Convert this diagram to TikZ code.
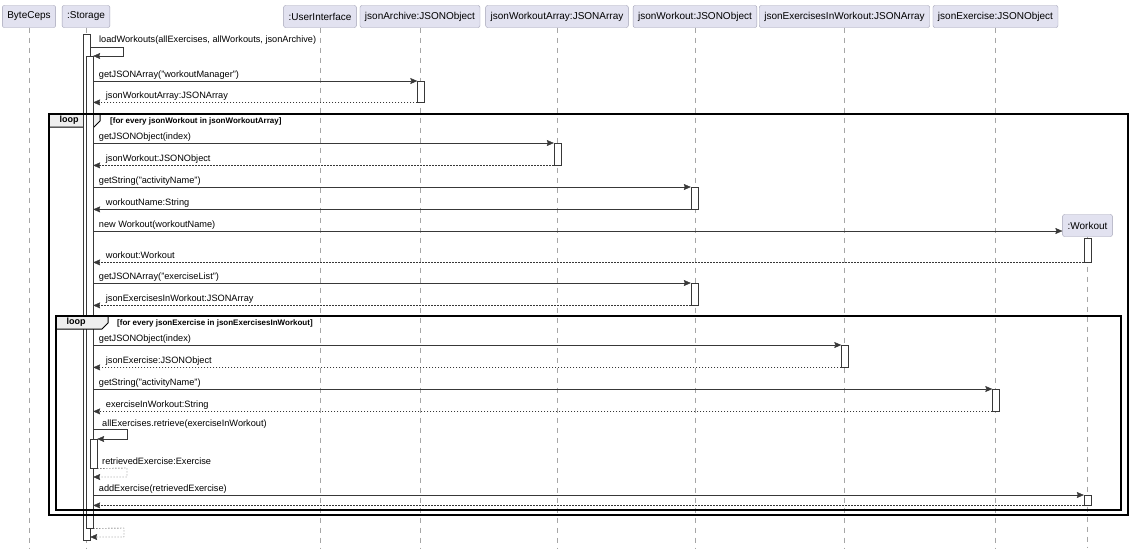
\documentclass[tikz,border=0pt]{standalone}
\usepackage{fontspec}
\setmainfont{Liberation Sans}
\usetikzlibrary{arrows.meta}
\definecolor{partfill}{HTML}{E2E2F0}
\definecolor{partline}{HTML}{A0A0B4}
\definecolor{msgline}{HTML}{383838}
\definecolor{tabfill}{HTML}{EEEEEE}
\tikzset{
  part/.style={draw=partline, fill=partfill, rounded corners=2pt, minimum height=22pt,
    inner xsep=5pt, font=\fontsize{10}{12}\selectfont},
  life/.style={draw=gray!70, dash pattern=on 5pt off 5pt},
  bar/.style={draw=msgline, fill=white, minimum width=7pt, inner sep=0pt, anchor=north},
  call/.style={draw=msgline, -{Stealth[length=7pt,width=6pt,inset=1pt]}},
  ret/.style={call, dash pattern=on 1.5pt off 1.5pt},
  msg/.style={anchor=base west, inner sep=0pt, font=\fontsize{9.2}{11}\selectfont},
  looptab/.style={draw=black, fill=tabfill, line width=1pt},
  loopbox/.style={draw=black, line width=1.2pt},
  cond/.style={anchor=base west, inner sep=0pt, font=\bfseries\fontsize{8}{10}\selectfont},
}
\begin{document}
\begin{tikzpicture}[x=1pt,y=-1pt]
  \useasboundingbox (0,0) rectangle (1130,550);
  \coordinate (bottom) at (0,548);
  % participants
  \node[part] (bc) at (29,16.5) {ByteCeps};
  \node[part] (st) at (86,16.5) {:Storage};
  \node[part] (ui) at (320,16.5) {:UserInterface};
  \node[part] (ja) at (420,16.5) {jsonArchive:JSONObject};
  \node[part] (jwa) at (557,16.5) {jsonWorkoutArray:JSONArray};
  \node[part] (jw) at (695,16.5) {jsonWorkout:JSONObject};
  \node[part] (jeiw) at (844.5,16.5) {jsonExercisesInWorkout:JSONArray};
  \node[part] (je) at (995.5,16.5) {jsonExercise:JSONObject};
  \node[part] (wo) at (1087.5,225.5) {:Workout};
  \foreach \p in {bc,st,ui,ja,jwa,jw,jeiw,je,wo}
    \draw[life] (\p.south) -- (\p.south |- bottom);

  % outer loop tab
  \draw[looptab] (49,114) -- (100,114) -- (100,121) -- (94,127) -- (49,127) -- cycle;
  \node[font=\bfseries\fontsize{9}{11}\selectfont, inner sep=0pt] (l1) at (69,120.5) {loop};
  \node[cond] (c1) at (110,123) {[for every jsonWorkout in jsonWorkoutArray]};

  % activations
  \node[bar, minimum height=506pt] (a1) at (86.5,34) {};
  \node[bar, minimum height=472pt] (a2) at (89.5,56) {};
  \node[bar, minimum height=21pt] (ja1) at (421,81) {};
  \node[bar, minimum height=22pt] (jwa1) at (557.5,143) {};
  \node[bar, minimum height=22pt] (jw1) at (694.5,187) {};
  \node[bar, minimum height=24pt] (wo1) at (1087.5,238) {};
  \node[bar, minimum height=22pt] (jw2) at (694.5,283) {};
  \node[bar, minimum height=22pt] (jeiw1) at (845,345) {};
  \node[bar, minimum height=22pt] (je1) at (996,389) {};
  \node[bar, minimum height=29pt] (a3) at (93.5,439) {};
  \node[bar, minimum height=10pt] (wo2) at (1087.5,495) {};

  % inner loop tab
  \draw[looptab] (56,316) -- (108,316) -- (108,323) -- (102,329) -- (56,329) -- cycle;
  \node[font=\bfseries\fontsize{9}{11}\selectfont, inner sep=0pt] (l2) at (76,322.5) {loop};
  \node[cond] (c2) at (117,325) {[for every jsonExercise in jsonExercisesInWorkout]};

  % messages
  \draw[call] (a1.east |- 0,47) -- (123,47) |- (a2.north east);
  \node[msg] (m1) at (99,42.5) {loadWorkouts(allExercises, allWorkouts, jsonArchive)};
  \draw[call] (a2.east |- ja1.north) -- (ja1.north west)
    node[msg, at start, xshift=5.5pt, yshift=4pt] (m2) {getJSONArray("workoutManager")};
  \draw[ret] (ja1.south west) -- (a2.east |- ja1.south)
    node[msg, at end, xshift=12.5pt, yshift=4pt] (m3) {jsonWorkoutArray:JSONArray};
  \draw[call] (a2.east |- jwa1.north) -- (jwa1.north west)
    node[msg, at start, xshift=5.5pt, yshift=4pt] (m4) {getJSONObject(index)};
  \draw[ret] (jwa1.south west) -- (a2.east |- jwa1.south)
    node[msg, at end, xshift=12.5pt, yshift=4pt] (m5) {jsonWorkout:JSONObject};
  \draw[call] (a2.east |- jw1.north) -- (jw1.north west)
    node[msg, at start, xshift=5.5pt, yshift=4pt] (m6) {getString("activityName")};
  \draw[call] (jw1.south west) -- (a2.east |- jw1.south)
    node[msg, at end, xshift=12.5pt, yshift=4pt] (m7) {workoutName:String};
  \draw[call] (a2.east |- 0,231) -- (wo.west |- 0,231)
    node[msg, at start, xshift=5.5pt, yshift=4pt] (m8) {new Workout(workoutName)};
  \draw[ret] (wo1.south west) -- (a2.east |- wo1.south)
    node[msg, at end, xshift=12.5pt, yshift=4pt] (m9) {workout:Workout};
  \draw[call] (a2.east |- jw2.north) -- (jw2.north west)
    node[msg, at start, xshift=5.5pt, yshift=4pt] (m10) {getJSONArray("exerciseList")};
  \draw[ret] (jw2.south west) -- (a2.east |- jw2.south)
    node[msg, at end, xshift=12.5pt, yshift=4pt] (m11) {jsonExercisesInWorkout:JSONArray};
  \draw[call] (a2.east |- jeiw1.north) -- (jeiw1.north west)
    node[msg, at start, xshift=5.5pt, yshift=4pt] (m12) {getJSONObject(index)};
  \draw[ret] (jeiw1.south west) -- (a2.east |- jeiw1.south)
    node[msg, at end, xshift=12.5pt, yshift=4pt] (m13) {jsonExercise:JSONObject};
  \draw[call] (a2.east |- je1.north) -- (je1.north west)
    node[msg, at start, xshift=5.5pt, yshift=4pt] (m14) {getString("activityName")};
  \draw[ret] (je1.south west) -- (a2.east |- je1.south)
    node[msg, at end, xshift=12.5pt, yshift=4pt] (m15) {exerciseInWorkout:String};
  \draw[call] (a2.east |- 0,429) -- (127,429) |- (a3.north east);
  \node[msg] (m16) at (102,426.5) {allExercises.retrieve(exerciseInWorkout)};
  \draw[ret] (a3.south east) -- (127,468) |- (a2.east |- 0,477);
  \node[msg] (m17) at (102,464) {retrievedExercise:Exercise};
  \draw[call] (a2.east |- wo2.north) -- (wo2.north west)
    node[msg, at start, xshift=5.5pt, yshift=4pt] (m18) {addExercise(retrievedExercise)};
  \draw[ret] (wo2.south west) -- (a2.east |- wo2.south);
  \draw[ret] (a1.east |- a2.south) -- (124,528) |- (a1.east |- 0,537);

  % loop frames
  \draw[loopbox] (49,114) rectangle (1128,515);
  \draw[loopbox] (56,316) rectangle (1121,510);
\end{tikzpicture}
\end{document}
